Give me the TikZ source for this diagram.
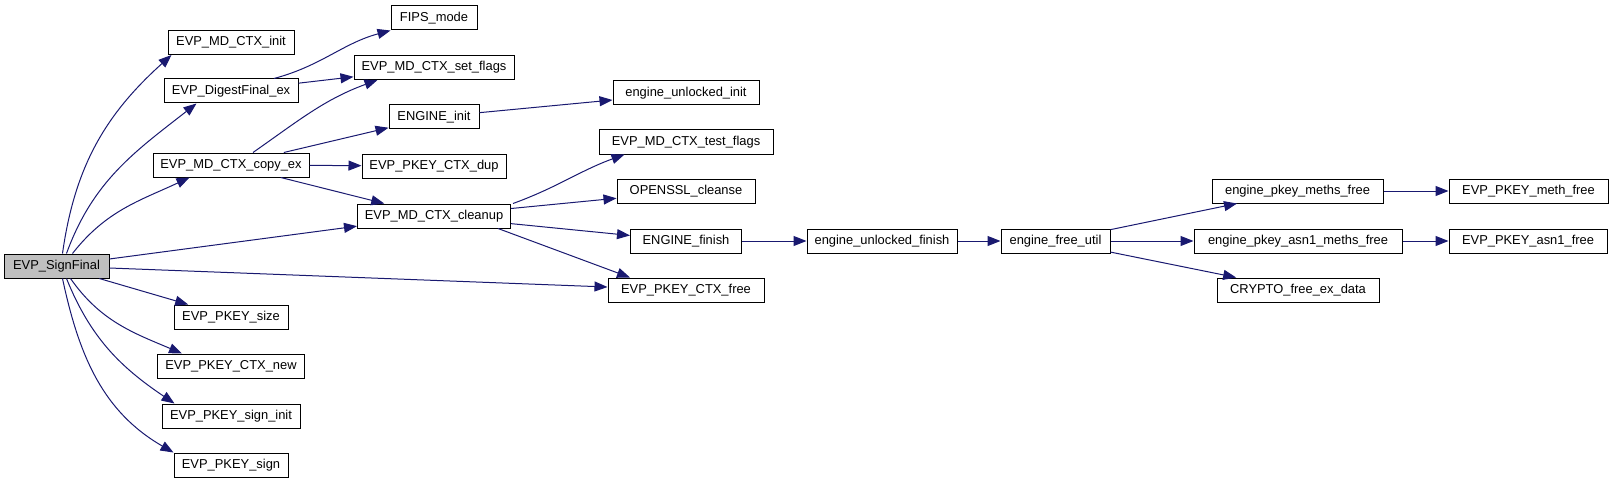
\documentclass[tikz,border=0pt]{standalone}
\usepackage{fontspec}
\setmainfont{Liberation Sans}
\usetikzlibrary{arrows.meta}
\definecolor{callblue}{RGB}{25,25,112}
\definecolor{rootgray}{RGB}{191,191,191}

\begin{document}
\begin{tikzpicture}[x=1pt,y=1pt,
  fn/.style={draw=black,line width=1pt,fill=white,minimum height=24pt,inner sep=0pt,font=\fontsize{12.9}{14}\selectfont},
  call/.style={draw=callblue,line width=1pt,-{Triangle[length=13pt,width=10pt]}}]
\useasboundingbox (0,0) rectangle (1614,483);

\node[fn,fill=rootgray,minimum width=105pt] (sf) at (56.5,217) {EVP\_SignFinal};
\node[fn,minimum width=126pt] (init) at (231,440.5) {EVP\_MD\_CTX\_init};
\node[fn,minimum width=134pt] (dfe) at (231,392) {EVP\_DigestFinal\_ex};
\node[fn,minimum width=156pt] (cpy) at (231,318) {EVP\_MD\_CTX\_copy\_ex};
\node[fn,minimum width=114pt] (size) at (231,166) {EVP\_PKEY\_size};
\node[fn,minimum width=147pt] (cnew) at (231,117) {EVP\_PKEY\_CTX\_new};
\node[fn,minimum width=138pt] (sinit) at (231,67) {EVP\_PKEY\_sign\_init};
\node[fn,minimum width=114pt] (sign) at (231,18) {EVP\_PKEY\_sign};

\node[fn,minimum width=86pt] (fips) at (434,465) {FIPS\_mode};
\node[fn,minimum width=160pt] (setf) at (434,415.5) {EVP\_MD\_CTX\_set\_flags};
\node[fn,minimum width=90pt] (einit) at (434,366) {ENGINE\_init};
\node[fn,minimum width=144pt] (dup) at (434,317) {EVP\_PKEY\_CTX\_dup};
\node[fn,minimum width=153pt] (clean) at (434,267) {EVP\_MD\_CTX\_cleanup};

\node[fn,minimum width=146pt] (uinit) at (686,390) {engine\_unlocked\_init};
\node[fn,minimum width=174pt] (testf) at (686,341) {EVP\_MD\_CTX\_test\_flags};
\node[fn,minimum width=138pt] (cleanse) at (686,291.5) {OPENSSL\_cleanse};
\node[fn,minimum width=111pt] (efin) at (686,242) {ENGINE\_finish};
\node[fn,minimum width=156pt] (cfree) at (686,193) {EVP\_PKEY\_CTX\_free};

\node[fn,minimum width=150pt] (ufin) at (882,242) {engine\_unlocked\_finish};
\node[fn,minimum width=109pt] (futil) at (1055.5,242) {engine\_free\_util};
\node[fn,minimum width=171pt] (pmf) at (1297.5,292) {engine\_pkey\_meths\_free};
\node[fn,minimum width=208pt] (pamf) at (1298,242) {engine\_pkey\_asn1\_meths\_free};
\node[fn,minimum width=162pt] (cxd) at (1298,193) {CRYPTO\_free\_ex\_data};
\node[fn,minimum width=159pt] (mfree) at (1528.5,292) {EVP\_PKEY\_meth\_free};
\node[fn,minimum width=158pt] (afree) at (1528,242) {EVP\_PKEY\_asn1\_free};

\draw[call] ([xshift=6pt]sf.north) to[out=82,in=222] ([xshift=4pt]init.south west);
\draw[call] ([xshift=10pt]sf.north) to[out=70,in=218] ([xshift=33pt]dfe.south west);
\draw[call] ([xshift=16pt]sf.north) to[out=52,in=205] ([xshift=37pt]cpy.south west);
\draw[call] (sf) -- (clean);
\draw[call] (sf) -- (cfree);
\draw[call] (sf) -- (size);
\draw[call] ([xshift=14pt]sf.south) to[out=-55,in=157] ([xshift=25pt]cnew.north west);
\draw[call] ([xshift=10pt]sf.south) to[out=-68,in=146] ([xshift=13pt]sinit.north west);
\draw[call] ([xshift=6pt]sf.south) to[out=-78,in=150] (sign.north west);

\draw[call] ([xshift=43pt]dfe.north) to[out=15,in=195] (fips.south west);
\draw[call] (dfe) -- (setf);
\draw[call] ([xshift=22pt]cpy.north) to[out=35,in=200] ([xshift=24pt]setf.south west);
\draw[call] (cpy) -- (einit);
\draw[call] (cpy) -- (dup);
\draw[call] (cpy) -- (clean);
\draw[call] (einit) -- (uinit);

\draw[call] ([xshift=79pt]clean.north) to[out=20,in=200] ([xshift=26pt]testf.south west);
\draw[call] (clean) -- (cleanse);
\draw[call] (clean) -- (efin);
\draw[call] ([xshift=64pt]clean.south) -- ([xshift=-56pt]cfree.north);

\draw[call] (efin) -- (ufin);
\draw[call] (ufin) -- (futil);
\draw[call] (futil) -- (pmf);
\draw[call] (futil) -- (pamf);
\draw[call] (futil) -- (cxd);
\draw[call] (pmf) -- (mfree);
\draw[call] (pamf) -- (afree);

\end{tikzpicture}
\end{document}
